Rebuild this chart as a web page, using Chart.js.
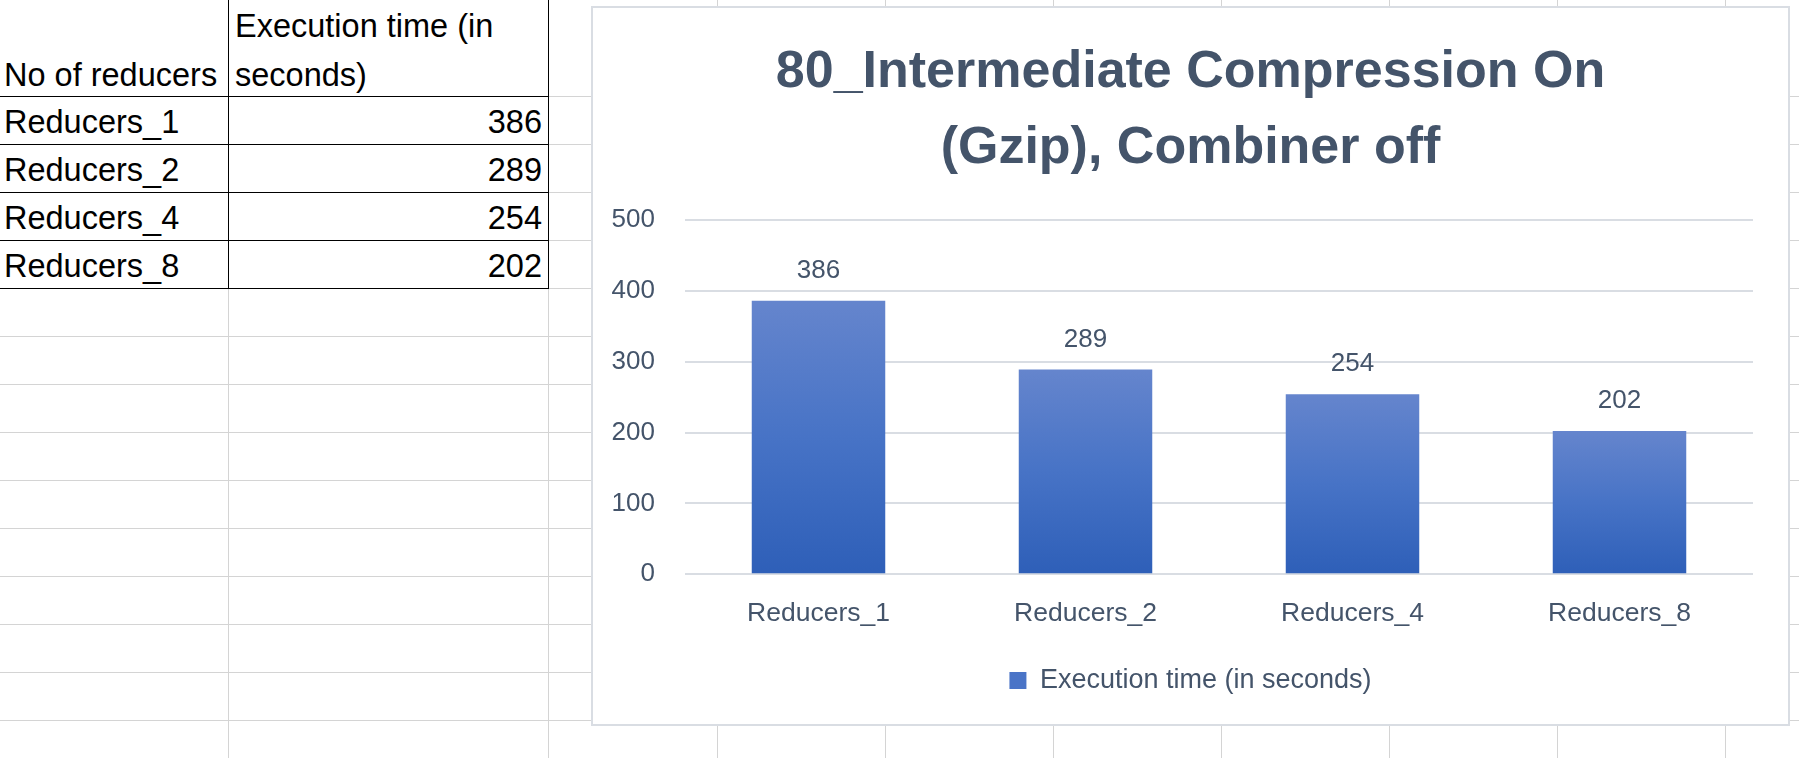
<!DOCTYPE html>
<html>
<head>
<meta charset="utf-8">
<title>80_Intermediate Compression On (Gzip), Combiner off</title>
<script src="https://cdn.jsdelivr.net/npm/chart.js@4.4.1/dist/chart.umd.min.js"></script>
<style>
    html, body { margin: 0; padding: 0; background: #fff; overflow: hidden; }
    body { width: 1799px; height: 758px; position: relative; font-family: 'Liberation Sans', Arial, sans-serif; }
    .vline { position: absolute; top: 0; width: 1px; height: 758px; background: #d4d4d4; }
    .hline { position: absolute; left: 0; height: 1px; width: 1799px; background: #d4d4d4; }
    .bline { position: absolute; background: #000; }
    .cell { position: absolute; font-size: 32.5px; line-height: 49px; color: #000; white-space: nowrap; }
    #chartBox { position: absolute; left: 591px; top: 6px; width: 1199px; height: 720px;
                box-sizing: border-box; border: 2px solid #d9dde3; background: #fff; }
    #chart1 { display: block; }
</style>
</head>
<body>
<div id="sheet"></div>
<div id="chartBox"><canvas id="chart1" width="1195" height="716"></canvas></div>
<script>
// Data
const reducers = ['Reducers_1', 'Reducers_2', 'Reducers_4', 'Reducers_8'];
const execTimes = [386, 289, 254, 202];
const seriesName = 'Execution time (in seconds)';
const headerA = 'No of reducers';
const headerB = ['Execution time (in', 'seconds)'];
const yTicks = [0, 100, 200, 300, 400, 500];
const chartTitle = ['80_Intermediate Compression On', '(Gzip), Combiner off'];

const textColor = '#44546a';
const fontFamily = "'Liberation Sans', Arial, sans-serif";

// ---------- Spreadsheet grid ----------
const sheet = document.getElementById('sheet');
const colEdges = [228, 548, 717, 885, 1053, 1221, 1389, 1557, 1725];
const rowEdges = [96];
while (rowEdges[rowEdges.length - 1] < 758) rowEdges.push(rowEdges[rowEdges.length - 1] + 48);

const addDiv = (cls, style, html) => {
    const d = document.createElement('div');
    d.className = cls;
    Object.assign(d.style, style);
    if (html !== undefined) d.innerHTML = html;
    sheet.appendChild(d);
    return d;
};

colEdges.forEach(x => addDiv('vline', { left: x + 'px' }));
rowEdges.forEach(y => addDiv('hline', { top: y + 'px' }));

// Table borders (black) around A1:B5
const tableBottom = rowEdges[reducers.length];
for (let i = 0; i <= reducers.length; i++) {
    addDiv('bline', { left: '0px', top: rowEdges[i] + 'px', width: '549px', height: '1px' });
}
addDiv('bline', { left: '228px', top: '0px', width: '1px', height: (tableBottom + 1) + 'px' });
addDiv('bline', { left: '548px', top: '0px', width: '1px', height: (tableBottom + 1) + 'px' });

// Table text
addDiv('cell', { left: '4px', top: '51px' }, headerA);
addDiv('cell', { left: '235px', top: '2px' }, headerB.join('<br>'));
reducers.forEach((name, i) => {
    const top = rowEdges[i] + 2;
    addDiv('cell', { left: '4px', top: top + 'px' }, name);
    addDiv('cell', { left: '229px', top: top + 'px', width: '313px', textAlign: 'right' }, execTimes[i]);
});

// ---------- Chart ----------
const barGradient = (context) => {
    const chart = context.chart;
    if (!chart.chartArea || context.type !== 'data') return '#4773c6';
    const yScale = chart.scales.y;
    const top = yScale.getPixelForValue(context.parsed.y);
    const bottom = yScale.getPixelForValue(0);
    const g = chart.ctx.createLinearGradient(0, top, 0, bottom);
    g.addColorStop(0, '#6585cd');
    g.addColorStop(0.5, '#4773c6');
    g.addColorStop(1, '#2e5fb8');
    return g;
};

// Value labels above each bar
const valueLabels = {
    id: 'valueLabels',
    afterDatasetsDraw(chart) {
        const { ctx } = chart;
        const meta = chart.getDatasetMeta(0);
        ctx.save();
        ctx.font = '26px ' + fontFamily;
        ctx.fillStyle = textColor;
        ctx.textAlign = 'center';
        ctx.textBaseline = 'middle';
        meta.data.forEach((bar, i) => {
            ctx.fillText(String(chart.data.datasets[0].data[i]), bar.x, bar.y - 30);
        });
        ctx.restore();
    }
};

const ctx1 = document.getElementById('chart1').getContext('2d');
const chart1Instance = new Chart(ctx1, {
    type: 'bar',
    data: {
        labels: reducers,
        datasets: [{
            label: seriesName,
            data: execTimes,
            backgroundColor: barGradient,
            borderWidth: 0,
            categoryPercentage: 1,
            barPercentage: 0.5
        }]
    },
    options: {
        responsive: false,
        animation: false,
        layout: { padding: { top: 0, left: 15, right: 15, bottom: 20 } },
        plugins: {
            title: {
                display: true,
                text: chartTitle,
                color: textColor,
                font: { family: fontFamily, size: 52, weight: 'bold', lineHeight: '76px' },
                padding: { top: 27, bottom: 33 }
            },
            legend: {
                position: 'bottom',
                labels: {
                    color: textColor,
                    font: { family: fontFamily, size: 27 },
                    boxWidth: 17,
                    boxHeight: 17,
                    padding: 21,
                    generateLabels: (chart) => {
                        const items = Chart.defaults.plugins.legend.labels.generateLabels(chart);
                        items.forEach(it => { it.fillStyle = '#4a74c7'; it.lineWidth = 0; });
                        return items;
                    }
                }
            },
            tooltip: { enabled: false }
        },
        scales: {
            x: {
                grid: { display: false },
                border: { display: false },
                ticks: { color: textColor, font: { family: fontFamily, size: 26.5 }, padding: 16 }
            },
            y: {
                min: yTicks[0],
                max: yTicks[yTicks.length - 1],
                afterFit: (scale) => { scale.width = 77; },
                ticks: {
                    stepSize: yTicks[1] - yTicks[0],
                    color: textColor,
                    font: { family: fontFamily, size: 26 },
                    padding: 30
                },
                grid: { color: '#d9dde3', lineWidth: 2, drawTicks: false },
                border: { display: false }
            },
            // empty right-hand spacer so the plot ends where Excel's does
            yRight: {
                position: 'right',
                display: true,
                afterFit: (scale) => { scale.width = 20; },
                ticks: { display: false },
                grid: { display: false },
                border: { display: false }
            }
        }
    },
    plugins: [valueLabels]
});
</script>
</body>
</html>
